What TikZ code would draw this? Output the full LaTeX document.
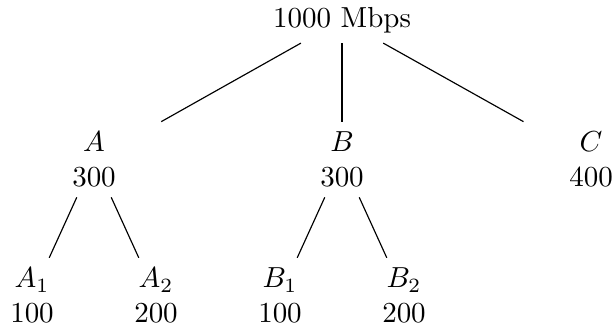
\documentclass[tikz,border=0pt]{standalone}
\begin{document}
\begin{tikzpicture}[x=0.345pt,y=-0.345pt,
  lbl/.style={align=center, inner sep=3.33pt},
  kid/.style={lbl, minimum width=52pt},
  edge/.style={draw=black, line width=0.4pt}]
\useasboundingbox (0,0) rectangle (614,329);
\node[lbl] (root) at (342,20) {1000 Mbps};
\node[kid] (A) at (94,159.5) {$A$\\300};
\node[kid] (B) at (342,159.5) {$B$\\300};
\node[kid] (C) at (591,159.5) {$C$\\400};
\node[kid] (A1) at (32,295.6) {$A_1$\\100};
\node[kid] (A2) at (156,295.6) {$A_2$\\200};
\node[kid] (B1) at (280,295.6) {$B_1$\\100};
\node[kid] (B2) at (404,295.6) {$B_2$\\200};
\draw[edge] (root) -- (A);
\draw[edge] (root) -- (B);
\draw[edge] (root) -- (C);
\draw[edge] (A) -- (A1);
\draw[edge] (A) -- (A2);
\draw[edge] (B) -- (B1);
\draw[edge] (B) -- (B2);
\end{tikzpicture}
\end{document}
